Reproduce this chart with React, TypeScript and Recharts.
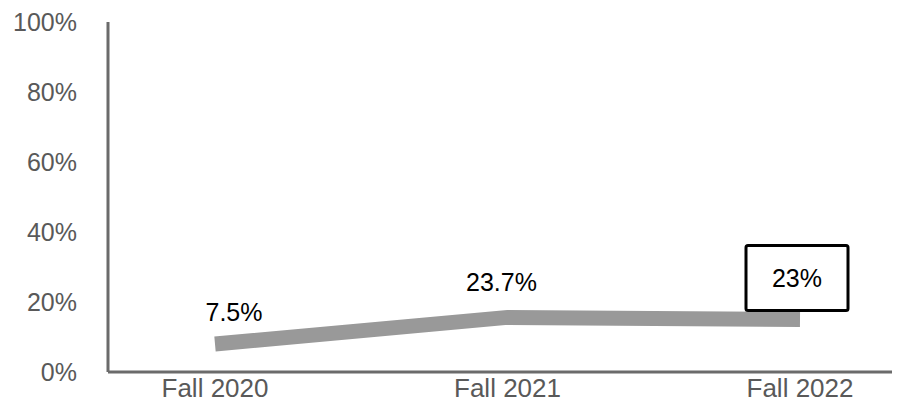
import { LineChart, Line, XAxis, YAxis, LabelList } from 'recharts';

const terms = ['Fall 2020', 'Fall 2021', 'Fall 2022'];
const rates = [8.0, 15.6, 15.0];
const rateLabels = ['7.5%', '23.7%', '23%'];
const yTicks = [0, 20, 40, 60, 80, 100];

const data = terms.map((term, i) => ({ term, rate: rates[i], label: rateLabels[i] }));

const FONT = '"Liberation Sans", Arial, sans-serif';
const AXIS_COLOR = '#6b6b6b';
const TICK_COLOR = '#595959';

// label nudges relative to each point (dx, dy)
const labelShift = [
  [19, -32],
  [-6, -35],
  [-3, -42],
];

function PointLabel(props: any) {
  const { x, y, index, value } = props;
  const [dx, dy] = labelShift[index] || [0, -30];
  const cx = x + dx;
  const cy = y + dy;
  const boxed = index === terms.length - 1;
  return (
    <g>
      {boxed && (
        <rect
          x={cx - 51}
          y={cy - 32}
          width={102}
          height={65}
          rx={2}
          fill="#fff"
          stroke="#000"
          strokeWidth={3}
        />
      )}
      <text
        x={cx}
        y={cy}
        textAnchor="middle"
        dominantBaseline="central"
        fontFamily={FONT}
        fontSize={25}
        fill="#000"
      >
        {value}
      </text>
    </g>
  );
}

export default function App() {
  return (
    <div style={{ width: 892, height: 396 }}>
      <LineChart
        width={892}
        height={396}
        data={data}
        margin={{ top: 14, right: 0, bottom: 0, left: 0 }}
      >
        <XAxis
          dataKey="term"
          height={32}
          padding={{ left: 107, right: 100 }}
          axisLine={{ stroke: AXIS_COLOR, strokeWidth: 3 }}
          tickLine={false}
          tickSize={0}
          tickMargin={7}
          tick={{ fill: TICK_COLOR, fontSize: 26, fontFamily: FONT }}
        />
        <YAxis
          width={100}
          domain={[0, 100]}
          ticks={yTicks}
          interval={0}
          tickFormatter={(v: number) => `${v}%`}
          axisLine={{ stroke: AXIS_COLOR, strokeWidth: 3 }}
          tickLine={false}
          tickSize={0}
          tickMargin={31}
          tick={{ fill: TICK_COLOR, fontSize: 25, fontFamily: FONT }}
        />
        <Line
          type="linear"
          dataKey="rate"
          stroke="#999999"
          strokeWidth={15}
          strokeLinecap="butt"
          strokeLinejoin="miter"
          dot={false}
          activeDot={false}
          isAnimationActive={false}
        >
          <LabelList dataKey="label" content={<PointLabel />} />
        </Line>
      </LineChart>
    </div>
  );
}
